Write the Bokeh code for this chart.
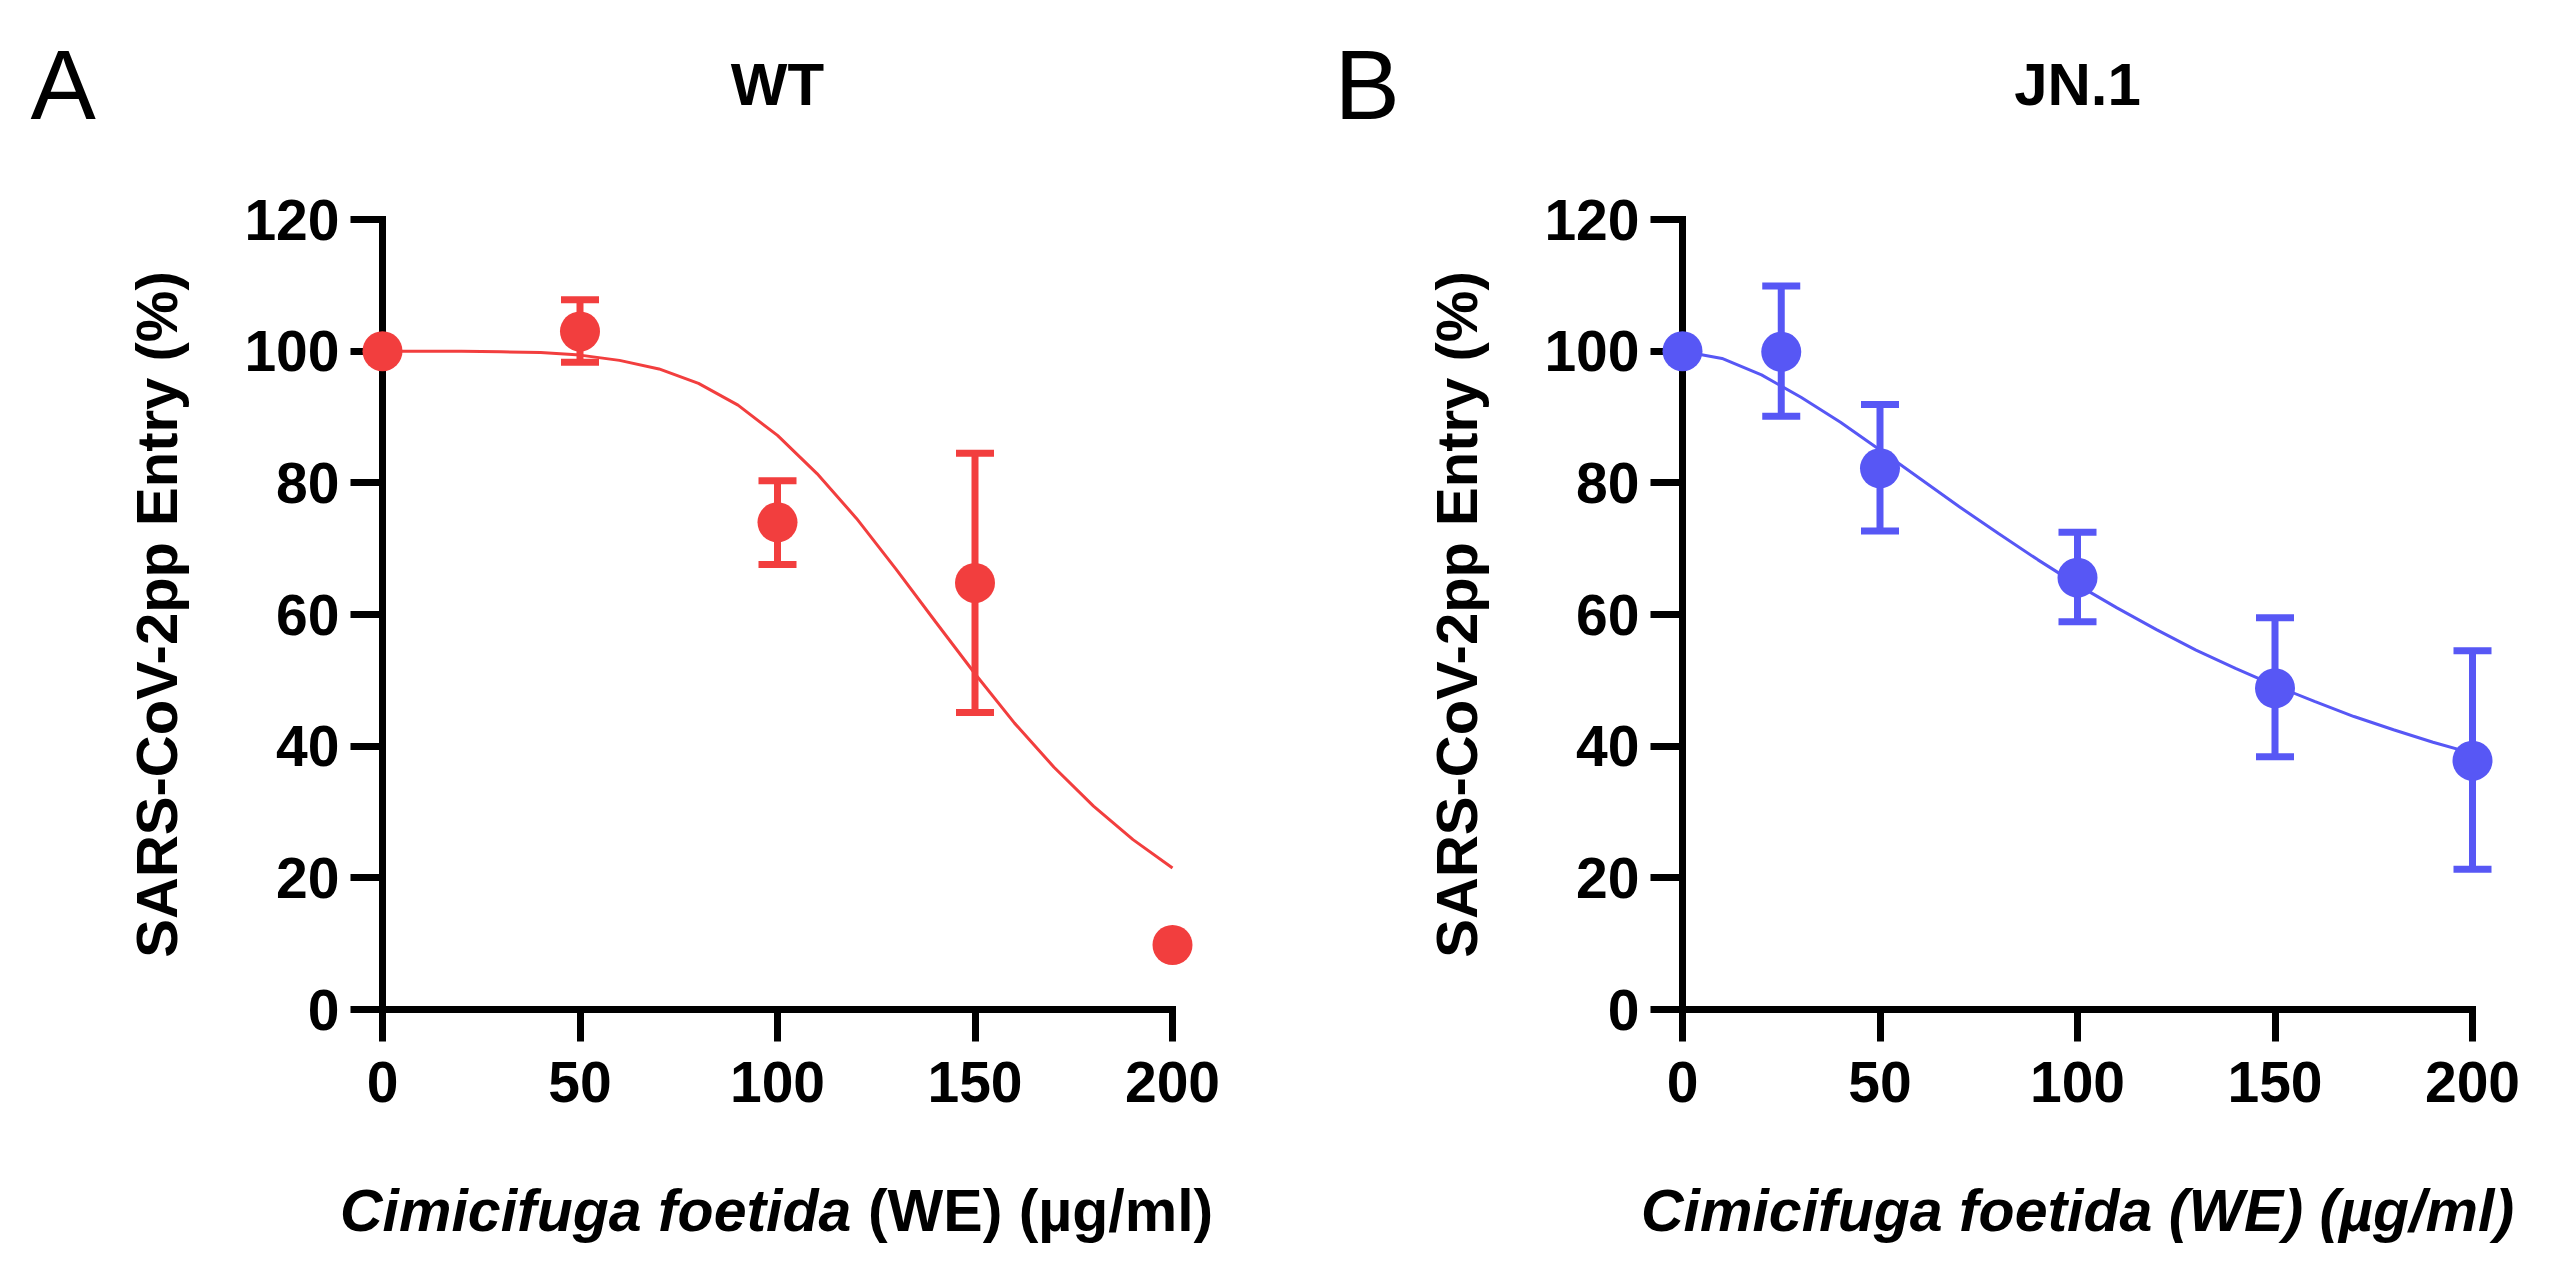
from bokeh.plotting import figure
from bokeh.models import Range1d, FixedTicker
from bokeh.core.properties import value
from bokeh.layouts import row
from bokeh.embed import file_html
from bokeh.resources import INLINE

# ---------------- data ----------------
x_ticks = [0, 50, 100, 150, 200]
y_ticks = [0, 20, 40, 60, 80, 100, 120]

wt_dose = [0, 50, 100, 150, 200]
wt_entry = [100, 103.0, 74.0, 64.8, 9.8]
wt_upper = [None, 107.8, 80.3, 84.5, None]
wt_lower = [None, 98.3, 67.6, 45.1, None]

wt_fit_dose = [0, 10, 20, 30, 40, 50, 60, 70, 80, 90, 100,
               110, 120, 130, 140, 150, 160, 170, 180, 190, 200]
wt_fit_entry = [100, 100, 100, 99.9, 99.8, 99.4, 98.6, 97.3, 95.1, 91.8, 87.2,
                81.4, 74.6, 66.9, 58.9, 51.0, 43.5, 36.8, 30.9, 25.8, 21.5]

jn_dose = [0, 25, 50, 100, 150, 200]
jn_entry = [100, 99.9, 82.2, 65.6, 48.8, 37.8]
jn_upper = [None, 109.9, 91.9, 72.5, 59.5, 54.5]
jn_lower = [None, 90.1, 72.7, 58.9, 38.4, 21.3]

jn_fit_dose = [0, 10, 20, 30, 40, 50, 60, 70, 80, 90, 100,
               110, 120, 130, 140, 150, 160, 170, 180, 190, 200]
jn_fit_entry = [100, 98.9, 96.4, 93.0, 89.2, 85.0, 80.7, 76.4, 72.3, 68.3, 64.5,
                61.0, 57.7, 54.6, 51.8, 49.2, 46.8, 44.5, 42.5, 40.6, 38.9]

y_label = "SARS-CoV-2pp Entry (%)"
panel_letters = ["A", "B"]
panel_titles = ["WT", "JN.1"]
x_label_species = "Cimicifuga foetida"
x_label_units = "(WE) (\u00b5g/ml)"

RED = "#F23E3E"
BLUE = "#5757F5"
FONT = "Liberation Sans"


def add_text(p, x, y, text, size, style, align):
    p.text(x=[x], y=[y], text=[text], text_font=value(FONT),
           text_font_size=value(size), text_font_style=value(style),
           text_color="black", text_align=align, text_baseline="alphabetic",
           level="overlay")


def make_panel(dose, entry, upper, lower, fit_x, fit_y, color, letter, title,
               left_border, right_border, letter_x):
    p = figure(width=left_border + 790 + right_border, height=1250,
               x_range=Range1d(0, 200), y_range=Range1d(0, 120),
               output_backend="svg", toolbar_location=None,
               min_border_left=left_border, min_border_right=right_border,
               min_border_top=219, min_border_bottom=241)
    p.outline_line_color = None
    p.grid.visible = False
    p.background_fill_color = "white"
    p.border_fill_color = "white"

    for ax in (p.xaxis[0], p.yaxis[0]):
        ax.axis_line_width = 7
        ax.axis_line_color = "black"
        ax.axis_line_cap = "square"
        ax.major_tick_line_width = 7
        ax.major_tick_line_color = "black"
        ax.major_tick_in = 0
        ax.major_tick_out = 32
        ax.minor_tick_line_color = None
        ax.major_label_text_font = FONT
        ax.major_label_text_font_style = "bold"
        ax.major_label_text_font_size = "57px"
        ax.major_label_text_color = "black"

    p.xaxis.ticker = FixedTicker(ticks=x_ticks)
    p.yaxis.ticker = FixedTicker(ticks=y_ticks)
    p.yaxis.major_label_standoff = 11
    p.xaxis.major_label_standoff = 20

    p.yaxis.axis_label = y_label
    p.yaxis.axis_label_text_font = FONT
    p.yaxis.axis_label_text_font_style = "bold"
    p.yaxis.axis_label_text_font_size = "58px"
    p.yaxis.axis_label_text_color = "black"
    p.yaxis.axis_label_standoff = 52

    # fitted curve
    p.line(fit_x, fit_y, line_color=color, line_width=3, level="overlay")

    # error bars (vertical bar + caps)
    eb = [(d, u, l) for d, u, l in zip(dose, upper, lower) if u is not None]
    ex = [e[0] for e in eb]
    eu = [e[1] for e in eb]
    el = [e[2] for e in eb]
    p.segment(x0=ex, y0=el, x1=ex, y1=eu, line_color=color, line_width=7,
              level="overlay")
    p.scatter(ex, eu, marker="dash", size=38, line_color=color, line_width=7,
              level="overlay")
    p.scatter(ex, el, marker="dash", size=38, line_color=color, line_width=7,
              level="overlay")

    # points
    p.scatter(dose, entry, size=40, fill_color=color, line_color=None,
              level="overlay")

    # panel letter and title
    add_text(p, letter_x, 140.5, letter, "98px", "normal", "left")
    add_text(p, 100, 140.5, title, "60px", "bold", "center")
    return p


pa = make_panel(wt_dose, wt_entry, wt_upper, wt_lower, wt_fit_dose, wt_fit_entry,
                RED, panel_letters[0], panel_titles[0], 382, 136, -89.1)
pb = make_panel(jn_dose, jn_entry, jn_upper, jn_lower, jn_fit_dose, jn_fit_entry,
                BLUE, panel_letters[1], panel_titles[1], 374, 83, -88.1)

# x-axis labels
add_text(pa, 118.7, -30.6, x_label_species, "59px", "bold italic", "right")
add_text(pa, 122.9, -30.6, x_label_units, "59px", "bold", "left")
add_text(pb, 100, -30.6, x_label_species + " " + x_label_units, "59px",
         "bold italic", "center")

layout = row(pa, pb)
open("out.html", "w").write(file_html(layout, INLINE))
